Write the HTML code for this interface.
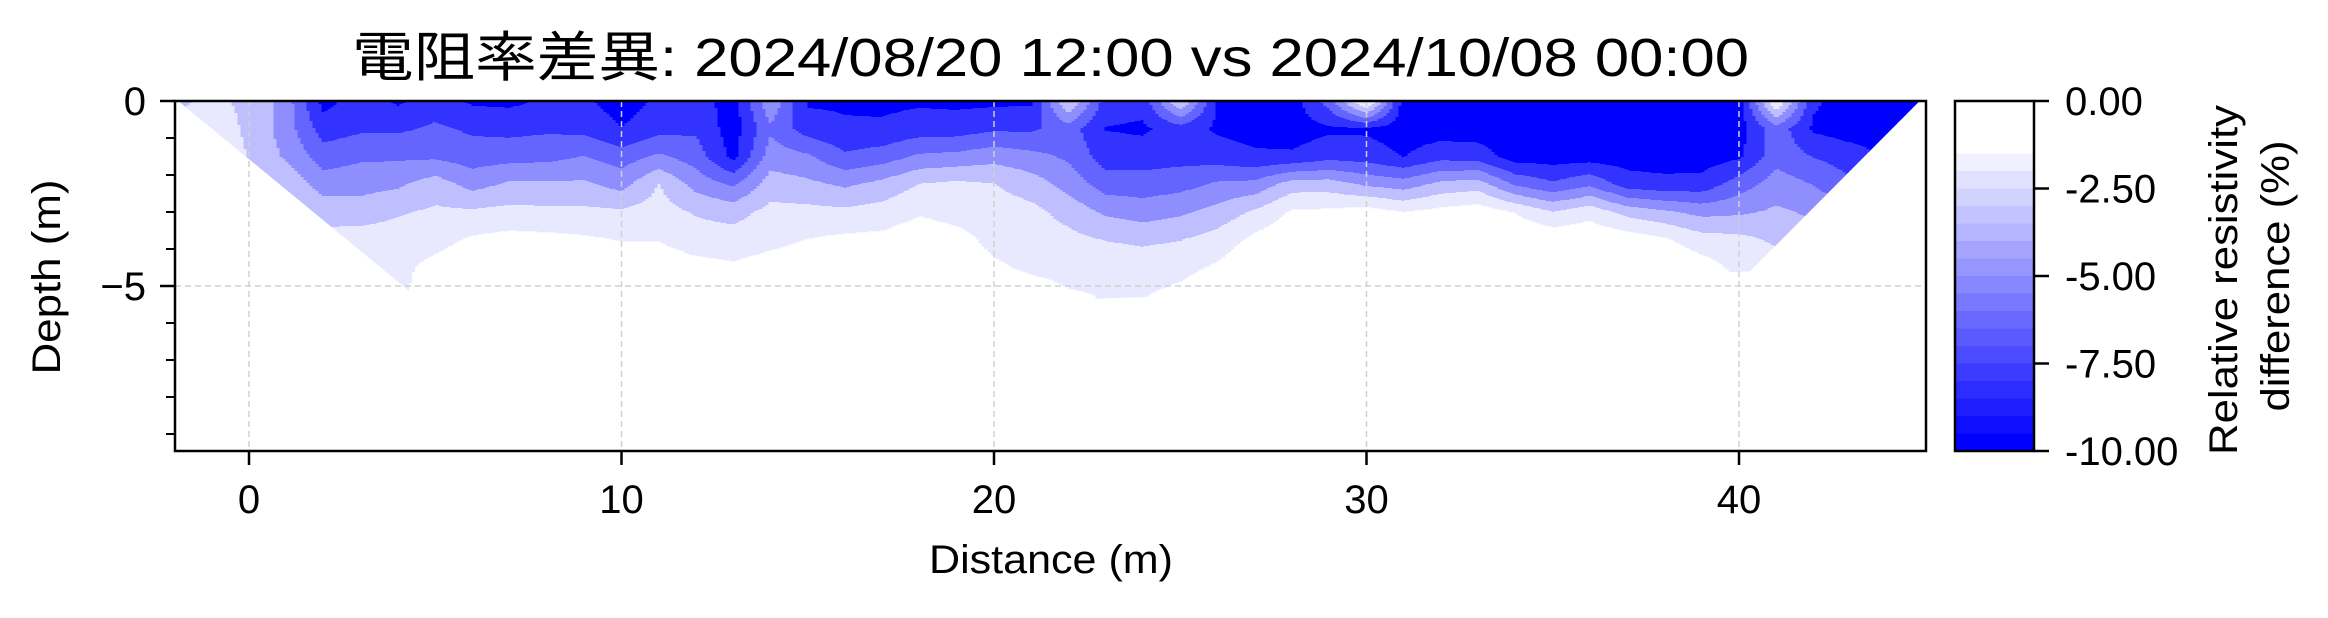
<!DOCTYPE html>
<html><head><meta charset="utf-8"><style>
html,body{margin:0;padding:0;background:#fff;}
svg text{font-family:"Liberation Sans","Noto Sans CJK JP",sans-serif;fill:#000;}
</style></head><body>
<svg id="chart" xmlns="http://www.w3.org/2000/svg" width="2328" height="613" viewBox="0 0 2328 613">
<rect width="2328" height="613" fill="#fff"/>
<text x="352" y="76" font-size="54" textLength="1397" lengthAdjust="spacingAndGlyphs">電阻率差異: 2024/08/20 12:00 vs 2024/10/08 00:00</text>
<defs><clipPath id="dataClip"><polygon id="clipPoly" points=""/></clipPath></defs>
<g id="field" clip-path="url(#dataClip)"></g>
<g id="grid"></g>
<rect x="175" y="101" width="1751" height="350" fill="none" stroke="#000" stroke-width="2.5"/>
<g id="axes"></g>
<text x="1051" y="573" font-size="40" text-anchor="middle" textLength="244" lengthAdjust="spacingAndGlyphs">Distance (m)</text>
<text transform="translate(60,277) rotate(-90)" font-size="40" text-anchor="middle" textLength="195" lengthAdjust="spacingAndGlyphs">Depth (m)</text>
<g id="cbar"></g>
<text transform="translate(2237,280) rotate(-90)" font-size="40" text-anchor="middle" textLength="350" lengthAdjust="spacingAndGlyphs">Relative resistivity</text>
<text transform="translate(2289,276) rotate(-90)" font-size="40" text-anchor="middle" textLength="271" lengthAdjust="spacingAndGlyphs">difference (%)</text>
</svg>
<script>
// ---- data ----
const xPositions = [-2,-1,0,1,2,3,4,5,6,7,8,9,10,11,12,13,14,15,16,17,18,19,20,21,22,23,24,25,26,27,28,29,30,31,32,33,34,35,36,37,38,39,40,41,42,43,44,45];
const depthRows = [0,0.75,1.5,2.25,3,3.75,4.5,5.25];
const rowD000 = [-3.5,-3,-3.5,-5.5,-9.8,-8.5,-9.5,-8.5,-9.5,-9.6, -9,-9,-10,-9,-8.5,-10,-5,-9.5,-9.5,-9.6, -9.5,-9.6,-9.6,-9.5,-3,-8.5,-8.7,-3,-9.5,-10, -10,-7,-1,-10,-10,-10,-10,-10,-10,-10, -10,-10,-10,-1.5,-9,-10,-10,-10];
const rowD075 = [-3,-2.5,-3.5,-5.5,-8.5,-8,-8,-7.5,-8,-8.2, -8,-8.2,-9.2,-8.3,-8,-10,-6.5,-8.5,-9,-9, -8.5,-8.5,-8,-8,-7,-9.3,-9.5,-8.5,-9.5,-9.8, -10,-9.5,-9.5,-10,-10,-10,-10,-10,-10,-10, -10,-10,-10,-6.8,-9.5,-10,-10,-10];
const rowD150 = [-2.5,-2.3,-3.3,-5,-7,-6.5,-6.5,-6.5,-7,-6.8, -6.7,-6.2,-7,-6,-7,-9.7,-5.5,-6,-7.5,-7, -6,-5.8,-5.3,-5.8,-6.5,-8.5,-8.5,-8.3,-8.5,-9, -9,-8.3,-8.5,-9.3,-8.3,-8.5,-10,-10,-10,-10, -10,-10,-9.5,-6.8,-7.8,-8.5,-9.5,-10];
const rowD225 = [-2,-2,-3,-3.5,-5.5,-5.3,-5,-4,-5.3,-4.5, -4.5,-4.5,-5.3,-3.2,-5.3,-6.5,-4,-4.4,-5,-4.3, -3.2,-2.9,-3.2,-4,-5.3,-7,-7,-6.8,-6,-5.8, -4,-4,-5,-5.5,-4.3,-4,-6.5,-7.5,-6.5,-8.5, -8.8,-8.7,-7,-5.5,-6.3,-7.5,-8,-9];
const rowD300 = [-1,-1.5,-2.5,-2.6,-3.8,-4,-3.4,-3,-3,-2.8, -2.9,-2.9,-3,-2.6,-3.4,-3.8,-2.8,-2.8,-2.9,-2.6, -1.9,-2.3,-2.5,-2.8,-3.8,-5,-5.5,-5,-4.2,-3, -1.5,-1.4,-1,-1.7,-1.2,-0.8,-1.8,-3.2,-2.3,-3.8, -4.5,-5.2,-5,-4.5,-5,-6,-7,-8];
const rowD375 = [-0.5,-0.5,-1.5,-2.2,-2.8,-2.5,-2.5,-2.3,-1.5,-1.2, -1.3,-1.5,-1.8,-1.8,-2.5,-2.6,-2.2,-1.7,-1.4,-1.3, -0.8,-1.2,-2.2,-2.4,-2.8,-3.3,-3.5,-3.3,-2.6,-1.3, -0.5,-0.4,-0.3,-0.4,-0.3,-0.2,-0.4,-0.5,-0.5,-0.8, -1.5,-2.6,-2.8,-3.5,-4,-5,-6,-7];
const rowD450 = [-0.3,-0.3,-0.5,-1,-1.5,-2,-2.2,-1.2,-0.5,-0.4, -0.4,-0.5,-0.8,-0.8,-1.2,-1.5,-1,-0.6,-0.5,-0.4, -0.3,-0.4,-1.5,-2,-2.2,-2.3,-2.5,-2.2,-1.5,-0.4, -0.2,-0.2,-0.1,-0.1,-0.1,-0.1,-0.1,-0.1,-0.1,-0.2, -0.3,-1,-2.2,-2.5,-3,-4,-5,-6];
const rowD525 = [-0.2,-0.2,-0.2,-0.3,-0.5,-1,-2.2,-0.5,-0.3,-0.2, -0.2,-0.2,-0.3,-0.3,-0.4,-0.5,-0.3,-0.2,-0.2,-0.2, -0.1,-0.1,-0.5,-1,-1.6,-1.8,-1.8,-1.3,-0.5,-0.2, -0.1,-0.1,-0.1,-0.1,-0.1,-0.1,-0.1,-0.1,-0.1,-0.1, -0.1,-0.3,-1,-1.5,-2,-3,-4,-5];
const fieldRows = [rowD000,rowD075,rowD150,rowD225,rowD300,rowD375,rowD450,rowD525];
const hullX = [-1.9,4.43,22.5,24,40.3,44.85];
const hullDepth = [0,5.24,5.35,5.3,4.6,0];
const plotLevels = [-1.75,-3.25,-4.75,-6.25,-7.75,-9.25];
const xTicks = [0,10,20,30,40];
const yMajorTicks = [0,-5];
const yMinorTicks = [-1,-2,-3,-4,-6,-7,-8,-9];
const cbarTicks = [0,-2.5,-5,-7.5,-10];
const cbarTickLabels = ["0.00","-2.50","-5.00","-7.50","-10.00"];

// ---- scales ----
const NS="http://www.w3.org/2000/svg";
const X = x => 249 + 37.25*x;
const Y = d => 101 + 37*d;     // depth (positive down)
const CB = v => 101 + (-v)/10*350;
const plotColors = ["#ffffff","#e8e8ff","#bfbfff","#8e8eff","#6464ff","#3333ff","#0000ff"];
function mk(tag, attrs, parent){const e=document.createElementNS(NS,tag);for(const k in attrs)e.setAttribute(k,attrs[k]);parent.appendChild(e);return e;}

document.getElementById('clipPoly').setAttribute('points', hullX.map((x,i)=>X(x)+','+Y(hullDepth[i])).join(' '));

function valueAt(x,d){
  let xi=(x-xPositions[0]); xi=Math.max(0,Math.min(xPositions.length-1.0001,xi));
  const i0=Math.floor(xi), fx=xi-i0;
  let di=d/0.75; di=Math.max(0,Math.min(depthRows.length-1.0001,di));
  const j0=Math.floor(di), fy=di-j0;
  const a=fieldRows[j0][i0], b=fieldRows[j0][i0+1], c=fieldRows[j0+1][i0], e=fieldRows[j0+1][i0+1];
  return (a*(1-fx)+b*fx)*(1-fy)+(c*(1-fx)+e*fx)*fy;
}
function band(v){let k=0;for(const l of plotLevels){if(v<l)k++;}return k;}

const field=document.getElementById('field');
const step=3;
const yEnd=Math.ceil(Y(5.6));
for(let px=X(-2); px<X(45); px+=step){
  const x=(px+step/2-249)/37.25;
  let runStart=101, runBand=-1;
  for(let py=101; py<=yEnd+1; py+=1){
    const b = py<=yEnd ? band(valueAt(x,(py+0.5-101)/37)) : -2;
    if(b!==runBand){
      if(runBand>0){
        const r=mk('rect',{x:px,y:runStart,width:step+0.6,height:py-runStart+0.3,fill:plotColors[runBand]},field);
        
        
      }
      runBand=b; runStart=py;
    }
  }
}

// grid
const grid=document.getElementById('grid');
xTicks.forEach(t=>{const l=mk('line',{x1:X(t),x2:X(t),y1:101,y2:451,stroke:'#d0d0d0','stroke-width':1.5,'stroke-dasharray':'6,4'},grid);
 
 });
yMajorTicks.forEach(t=>{const l=mk('line',{x1:175,x2:1926,y1:Y(-t),y2:Y(-t),stroke:'#d0d0d0','stroke-width':1.5,'stroke-dasharray':'6,4'},grid);
 
 });

// axes
const axes=document.getElementById('axes');
xTicks.forEach(t=>{
  const l=mk('line',{x1:X(t),x2:X(t),y1:451,y2:465,stroke:'#000','stroke-width':2.5},axes);
  
  
  const tx=mk('text',{x:X(t),y:513,'font-size':40,'text-anchor':'middle'},axes);
  tx.textContent=String(t);
  
  
});
yMajorTicks.forEach(t=>{
  const l=mk('line',{x1:160,x2:175,y1:Y(-t),y2:Y(-t),stroke:'#000','stroke-width':2.5},axes);
  
  
  const tx=mk('text',{x:146,y:Y(-t)+14,'font-size':40,'text-anchor':'end'},axes);
  tx.textContent=t<0?('\u2212'+(-t)):String(t);
  
  
});
yMinorTicks.forEach(t=>{
  const l=mk('line',{x1:166,x2:175,y1:Y(-t),y2:Y(-t),stroke:'#000','stroke-width':2},axes);
  
  
});

// colorbar
const cbar=document.getElementById('cbar');
for(let i=0;i<20;i++){
  const v0=-i*0.5, v1=-(i+1)*0.5;
  const g = i<3 ? 255 : Math.round(255*(1-(i-2)/17));
  const r=mk('rect',{x:1955,y:CB(v0),width:79,height:CB(v1)-CB(v0)+0.5,fill:`rgb(${g},${g},255)`},cbar);
  
  
}
const cf=mk('rect',{x:1955,y:101,width:79,height:350,fill:'none',stroke:'#000','stroke-width':2.5},cbar);


cbarTicks.forEach((t,i)=>{
  const l=mk('line',{x1:2034,x2:2049,y1:CB(t),y2:CB(t),stroke:'#000','stroke-width':2.5},cbar);
  
  
  const tx=mk('text',{x:2065,y:CB(t)+14,'font-size':40},cbar);
  tx.textContent=cbarTickLabels[i];
  
  
});
</script>
</body></html>
